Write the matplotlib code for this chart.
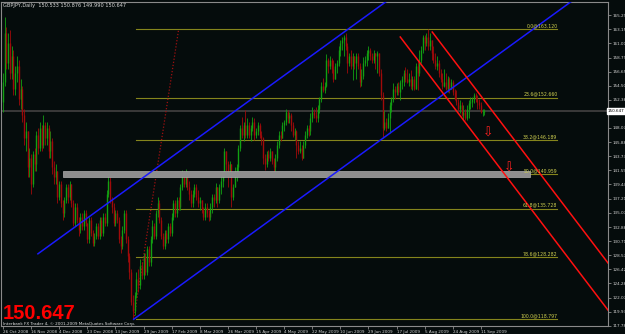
import matplotlib
matplotlib.use('Agg')
import matplotlib.pyplot as plt
import numpy as np
from matplotlib.patches import Rectangle

# ---- data ----
title_text = 'GBPJPY,Daily  150.533 150.876 149.990 150.647'
bid_price = 150.647

first_open = 152.0
closes = [
    155.0, 162.5, 158.0, 161.0, 156.5, 159.0, 154.0, 156.5, 157.5, 152.5, 154.0, 150.0, 146.5, 147.5, 142.0, 143.5, 139.5,
    144.0, 142.5, 147.0, 145.0, 148.0, 145.5, 148.5, 146.5, 148.0, 144.5, 146.0, 142.0, 140.5, 141.5,
    137.5, 139.5, 136.5, 135.0, 137.0, 139.0, 137.5, 139.5, 136.5, 133.5, 136.0, 134.0, 132.5, 134.5, 133.0, 135.0, 133.5, 131.0, 134.0, 132.0, 130.5, 131.5, 133.0, 131.5, 134.0, 132.0, 134.5, 133.5,
    138.0, 140.0, 137.0, 136.0, 133.5, 135.0, 134.0, 131.0, 130.0, 132.5, 135.0, 131.0, 128.5, 126.0, 121.5, 120.0,
    122.5, 125.0, 124.0, 127.0, 125.5, 128.5, 126.0, 129.5, 127.5, 131.0, 133.0, 131.5, 135.0, 136.5, 134.0, 131.5, 130.0, 132.0, 131.0, 133.0, 132.0, 134.5, 136.5, 135.0, 137.0, 136.0,
    139.0, 141.0, 139.5, 141.0, 139.0, 138.0, 136.5, 138.0, 139.0, 137.5, 136.5, 137.0, 135.5, 134.5, 136.0, 135.0, 134.5, 136.0, 137.5, 137.0, 139.0, 137.0, 139.0, 140.0, 141.0,
    144.5, 142.5, 141.0, 142.5, 137.5, 139.0, 141.5, 142.0, 145.0, 148.0, 147.0, 148.5, 147.0, 148.5, 147.0,
    148.0, 149.0, 147.0, 147.5, 148.5, 147.0, 146.5, 143.5, 142.5, 144.0, 143.5, 144.5, 143.0, 142.0, 143.5, 145.5, 147.0, 146.5, 148.5, 149.0,
    150.5, 149.5, 150.0, 148.5, 147.0, 147.5, 145.5, 144.5, 145.0, 143.5, 145.5, 147.0, 148.0, 147.5, 149.5, 150.5, 150.0, 149.5, 151.0, 152.5, 154.5,
    153.8, 154.5, 158.5, 157.5, 158.5, 157.0, 155.5, 157.5, 158.0, 160.0, 161.0, 161.5, 162.0, 160.5, 158.0, 159.0, 157.5, 159.0, 158.0,
    159.0, 157.5, 155.0, 156.0, 158.0, 158.5, 159.5, 160.0, 159.0, 158.5, 159.5, 159.0, 159.5, 156.5, 153.0, 148.0,
    149.0, 148.0, 149.5, 151.5, 152.5, 154.0, 153.5, 154.5, 153.5, 155.0, 155.5, 156.5, 155.5, 155.0, 155.5, 154.5, 155.5, 154.0, 157.5, 156.5,
    158.5, 160.0, 162.0, 161.0, 162.0, 160.5, 161.5, 159.5, 158.5, 157.5, 158.0, 156.5, 155.5, 154.5, 155.0, 154.0, 155.5, 154.0, 155.0,
    153.5, 152.5, 152.0, 151.0, 151.5, 150.0, 150.5, 149.5, 151.0, 151.8, 152.0, 152.5, 153.0, 152.5, 152.0, 151.5, 150.5, 150.533, 150.647,
]
highs = [
    156.5, 165.0, 163.5, 162.5, 163.0, 160.5, 160.0, 157.5, 159.0, 158.5, 155.5, 154.5, 151.0, 149.0, 147.5, 145.0, 144.0,
    144.5, 145.0, 147.5, 148.0, 149.0, 148.5, 150.0, 149.0, 149.0, 148.5, 147.5, 146.5, 143.0, 142.5,
    141.5, 140.0, 140.0, 137.0, 137.5, 139.5, 139.5, 140.0, 139.5, 137.0, 136.5, 136.5, 134.5, 135.0, 135.0, 135.5, 135.5, 133.5, 134.5, 134.5, 132.5, 132.0, 133.5, 133.5, 134.5, 134.5, 135.0, 135.0,
    138.5, 141.0, 140.5, 137.5, 136.5, 135.5, 135.5, 134.5, 131.5, 133.0, 135.5, 135.5, 131.5, 129.0, 126.5, 122.5,
    123.0, 126.0, 126.5, 128.0, 127.5, 129.0, 129.0, 130.0, 130.0, 131.5, 134.0, 133.5, 135.5, 137.5, 137.0, 134.5, 132.0, 132.5, 132.5, 133.5, 133.5, 135.0, 137.0, 137.0, 137.5, 137.5,
    139.5, 141.6, 141.5, 141.8, 141.5, 140.0, 138.5, 138.5, 139.5, 139.5, 138.5, 137.5, 137.0, 136.0, 136.5, 136.5, 135.5, 136.5, 138.0, 138.0, 139.6, 139.0, 139.5, 140.5, 141.5,
    145.0, 144.5, 143.0, 143.0, 142.5, 139.5, 142.0, 142.5, 145.5, 148.5, 149.7, 149.0, 150.8, 149.5, 149.0,
    148.5, 149.7, 149.5, 148.0, 149.0, 148.8, 147.5, 146.7, 144.0, 144.5, 144.7, 145.0, 144.5, 143.5, 144.0, 146.0, 147.5, 147.5, 149.0, 149.3,
    151.0, 150.8, 150.5, 150.3, 149.0, 148.0, 147.7, 146.0, 146.0, 145.5, 146.0, 147.5, 148.5, 148.5, 150.3, 151.2, 151.0, 151.2, 151.5, 152.8, 155.0,
    155.7, 155.0, 159.4, 158.8, 159.0, 158.8, 158.4, 158.0, 158.5, 160.5, 161.5, 161.9, 162.3, 162.6, 161.0, 159.5, 160.0, 159.5, 159.0,
    159.5, 159.5, 158.0, 157.0, 158.9, 159.0, 160.0, 160.5, 160.3, 159.5, 160.0, 159.5, 159.8, 159.5, 157.0, 153.5,
    150.8, 149.5, 150.3, 152.0, 152.8, 154.9, 154.5, 154.9, 155.0, 155.4, 156.0, 156.9, 157.4, 157.0, 156.5, 156.9, 156.0, 156.0, 158.0, 158.4,
    160.0, 160.5, 162.2, 162.2, 162.5, 163.12, 162.5, 161.5, 160.5, 159.5, 159.0, 158.4, 157.0, 156.5, 157.0, 156.5, 156.0, 155.8, 155.5,
    155.4, 154.0, 153.8, 152.5, 152.3, 152.0, 151.5, 151.0, 151.5, 152.3, 152.8, 152.8, 153.4, 153.4, 153.0, 152.5, 152.0, 151.0, 150.876,
]
lows = [
    150.5, 154.5, 157.0, 157.0, 155.5, 155.5, 153.0, 153.0, 155.0, 151.5, 151.0, 149.0, 145.5, 144.5, 140.5, 140.5, 138.0,
    139.0, 141.5, 141.5, 144.0, 144.5, 144.5, 145.0, 145.5, 145.5, 143.5, 143.5, 141.0, 139.5, 139.5,
    136.5, 137.0, 136.0, 134.0, 134.5, 136.5, 136.5, 137.0, 136.0, 133.0, 133.0, 133.5, 131.5, 132.0, 132.5, 132.5, 133.0, 130.5, 130.5, 131.5, 130.0, 130.0, 131.0, 131.0, 131.0, 131.5, 131.5, 133.0,
    133.0, 137.5, 136.5, 135.0, 133.0, 133.0, 133.5, 130.5, 129.0, 129.5, 132.0, 130.5, 127.5, 125.0, 121.0, 118.797,
    119.5, 122.0, 123.0, 123.5, 125.0, 125.0, 125.5, 125.5, 127.0, 127.0, 130.5, 131.0, 131.0, 134.5, 133.5, 131.0, 129.5, 129.5, 130.5, 130.5, 131.5, 131.5, 134.0, 134.5, 134.5, 135.5,
    135.5, 138.5, 139.0, 139.0, 138.5, 137.0, 136.0, 136.0, 137.5, 137.0, 136.0, 135.5, 135.0, 134.0, 134.0, 134.5, 133.8, 134.0, 135.0, 136.0, 136.5, 136.0, 136.5, 138.0, 139.0,
    140.5, 141.5, 139.0, 140.5, 136.0, 137.0, 139.0, 140.0, 141.5, 144.5, 146.5, 146.0, 146.5, 146.5, 146.5,
    146.0, 147.5, 146.2, 146.5, 147.0, 146.5, 145.5, 142.5, 141.6, 142.0, 143.0, 143.0, 142.5, 141.2, 141.5, 143.0, 145.0, 146.0, 146.5, 147.5,
    148.5, 148.8, 148.8, 147.5, 146.7, 146.2, 143.5, 144.0, 144.2, 143.1, 143.5, 145.0, 146.5, 146.8, 147.0, 149.0, 149.5, 149.0, 149.0, 150.3, 152.0,
    153.5, 153.4, 154.3, 156.5, 157.0, 156.5, 155.0, 155.5, 156.5, 157.5, 159.0, 160.0, 159.0, 160.0, 156.4, 157.5, 157.0, 155.4, 157.0,
    155.5, 157.0, 154.3, 154.5, 155.5, 157.5, 157.5, 158.5, 158.4, 158.0, 158.0, 157.0, 156.4, 156.0, 152.3, 146.7,
    147.7, 147.5, 148.0, 147.3, 150.5, 152.0, 152.5, 153.0, 153.0, 152.3, 154.0, 154.5, 155.0, 154.9, 154.5, 154.0, 153.8, 153.8, 154.0, 153.8,
    156.0, 158.0, 159.5, 160.0, 160.5, 160.0, 160.0, 158.5, 158.0, 157.0, 156.9, 155.8, 155.0, 154.0, 154.3, 153.8, 153.5, 153.4, 154.0,
    153.0, 152.3, 151.5, 150.8, 150.3, 149.8, 149.3, 149.3, 149.3, 149.5, 151.0, 151.2, 151.8, 152.0, 151.0, 151.0, 150.3, 149.9, 149.990,
]

date_labels = ['26 Oct 2008', '16 Nov 2008', '4 Dec 2008', '23 Dec 2008', '13 Jan 2009', '29 Jan 2009',
               '17 Feb 2009', '8 Mar 2009', '26 Mar 2009', '15 Apr 2009', '4 May 2009', '22 May 2009',
               '10 Jun 2009', '29 Jun 2009', '17 Jul 2009', '5 Aug 2009', '24 Aug 2009', '11 Sep 2009']
bars_per_label = 16

price_ticks = [165.290, 163.150, 161.005, 158.795, 156.650, 154.505, 152.360, 150.215, 148.070,
               145.880, 143.735, 141.590, 139.445, 137.215, 135.070, 132.860, 130.715, 128.570,
               126.425, 124.280, 122.070, 119.935, 117.780]

# fibo retracement from the january low to the high
fib_pcts = [0.0, 23.6, 38.2, 50.0, 61.8, 78.6, 100.0]
fib_high = 163.120
fib_low = 118.797
fib_anchor_bars = [74.5, 100.0]
fib_end_bar = 315.5

# channels as (bar, price) pairs
blue_upper = [(19.9, 128.8), (203.4, 164.5)]
blue_lower = [(74.4, 118.8), (300.0, 162.8)]
red_left = [(226.1, 161.94), (344.3, 120.2)]
red_right = [(244.3, 162.7), (344.3, 127.4)]

zone_bars = [34.1, 300.0]
zone_prices = [140.5, 141.4]
arrow_bars = [276.0, 288.0]
arrow_prices = [147.3, 141.9]

# ---- drawing ----
bg = '#050c0c'
small_font = ['Liberation Sans Narrow', 'DejaVu Sans']

fig = plt.figure(figsize=(6.25, 3.34), dpi=100, facecolor=bg)
ax = fig.add_axes([1 / 625, 8 / 334, 607 / 625, 324 / 334], facecolor=bg)

closes = np.array(closes)
highs = np.array(highs)
lows = np.array(lows)
opens = np.concatenate([[first_open], closes[:-1]])
x = np.arange(len(closes))
up = closes >= opens

ax.axhline(bid_price, color='#3a3a3a', lw=1.4, zorder=1)

# fib levels
fib_prices = [fib_high - p / 100 * (fib_high - fib_low) for p in fib_pcts]
for pct, price in zip(fib_pcts, fib_prices):
    ax.plot([fib_anchor_bars[0] + 1, fib_end_bar], [price, price], color='#85851c', lw=0.8, zorder=2)
    ax.text(fib_end_bar, price + 0.15, f'{pct:.1f}@{price:.3f}', color='#d0d050', fontsize=3.3,
            family=small_font, ha='right', va='bottom', zorder=6)
ax.plot(fib_anchor_bars, [fib_low, fib_high], color='#a01010', lw=0.9, ls=(0, (1, 1.5)), zorder=2)

# candles
for mask, col in [(up, '#12a012'), (~up, '#a00a0a')]:
    ax.vlines(x[mask], lows[mask], highs[mask], colors=col, lw=0.6, zorder=3)
    ax.vlines(x[mask], opens[mask], closes[mask], colors=col, lw=1.0, zorder=3)

# support zone
ax.add_patch(Rectangle((zone_bars[0], zone_prices[0]), zone_bars[1] - zone_bars[0],
                       zone_prices[1] - zone_prices[0], facecolor='#8e8e8e', edgecolor='#b0b0b0',
                       lw=0.5, zorder=4))


def draw_line(pts, x_end, col):
    (x0, y0), (x1, y1) = pts
    slope = (y1 - y0) / (x1 - x0)
    ax.plot([x0, x_end], [y0, y0 + slope * (x_end - x0)], color=col, lw=1.1, zorder=5)


draw_line(blue_upper, 400, '#1a1aff')
draw_line(blue_lower, 400, '#1a1aff')
draw_line(red_left, red_left[1][0], '#ff1010')
draw_line(red_right, red_right[1][0], '#ff1010')

for bx, py in zip(arrow_bars, arrow_prices):
    ax.text(bx, py, '\u21e9', color='#ff2020', fontsize=9, ha='center', va='center', zorder=6)

# axes
ax.set_xlim(-1.1, 344.3)
ax.set_ylim(117.77, 167.29)
for s in ax.spines.values():
    s.set_color('#8a8a8a')
    s.set_linewidth(0.8)

ax.yaxis.tick_right()
ax.set_yticks(price_ticks)
ax.set_yticklabels([f'{p:.3f}' for p in price_ticks], family=small_font)
ax.set_xticks(np.arange(len(date_labels)) * bars_per_label)
ax.set_xticklabels(date_labels, ha='left', family=small_font)
ax.tick_params(axis='both', colors='#8a8a8a', labelcolor='#d0d0d0', labelsize=3.0,
               length=2, width=0.6)
ax.tick_params(axis='x', pad=0.6)
ax.tick_params(axis='y', pad=1.0)

ax.text(1.0, bid_price, f'{bid_price:.3f}', transform=ax.get_yaxis_transform(), color='black',
        fontsize=3.0, family=small_font, ha='left', va='center', zorder=10,
        bbox=dict(boxstyle='square,pad=0.15', facecolor='white', edgecolor='white'))

fig.text(3 / 625, 1 - 6 / 334, title_text, color='#d8d8d8', fontsize=3.6, family=small_font,
         ha='left', va='center')
fig.text(3 / 625, (334 - 319) / 334, f'{bid_price:.3f}', color='#ff0000', fontsize=14.5,
         family='Liberation Sans', weight='bold', ha='left', va='baseline')
fig.text(3 / 625, (334 - 325) / 334, 'Interbank FX Trader 4, \u00a9 2001-2009 MetaQuotes Software Corp.',
         color='#e0e0e0', fontsize=3.0, family=small_font, ha='left', va='baseline')

fig.savefig('out.png', dpi=100, facecolor=bg)
